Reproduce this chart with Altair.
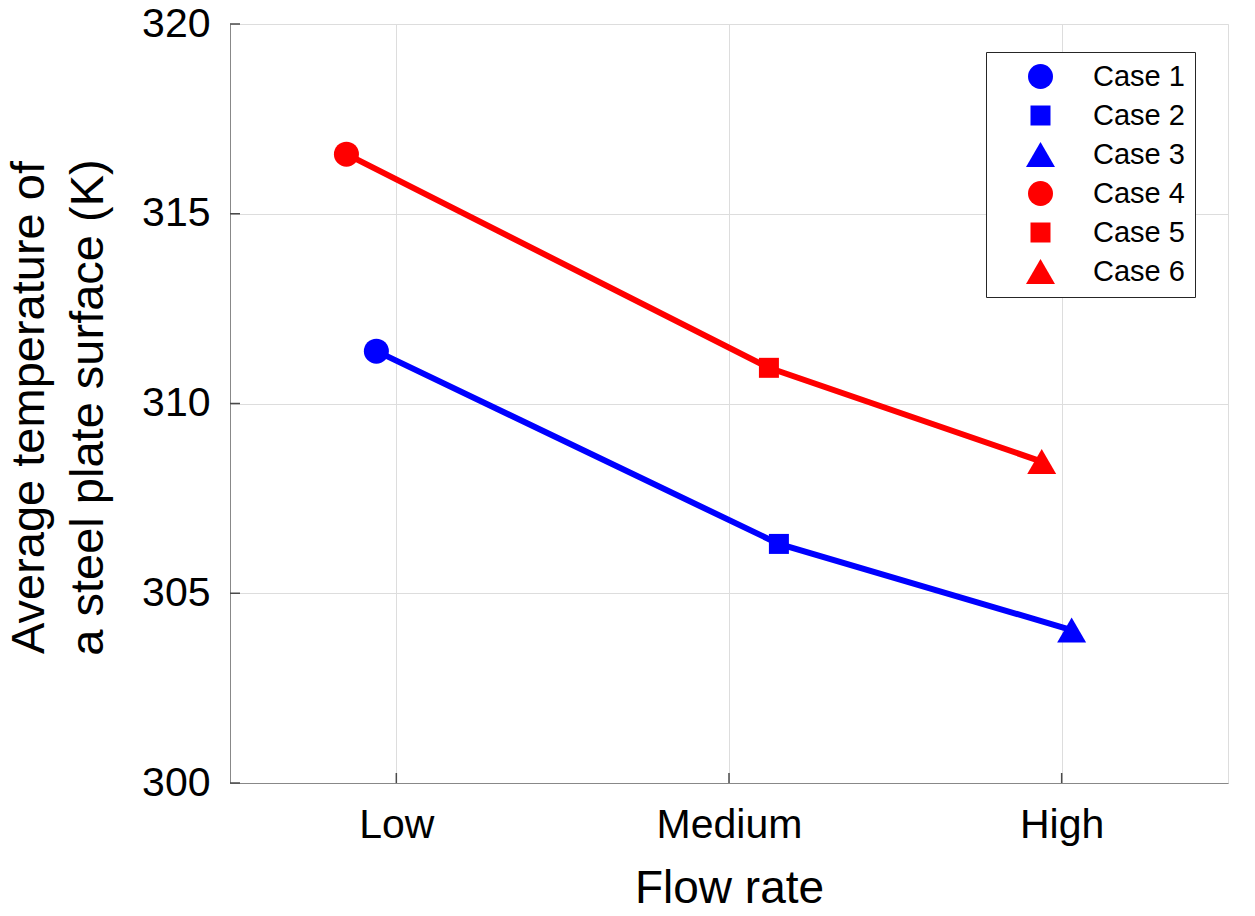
import altair as alt
import pandas as pd

# ---- data ----
cases = ["Case 1", "Case 2", "Case 3", "Case 4", "Case 5", "Case 6"]
flow_rate = ["Low", "Medium", "High", "Low", "Medium", "High"]
series = ["blue", "blue", "blue", "red", "red", "red"]
x_pos = [0.94, 2.15, 3.03, 0.85, 2.12, 2.94]
temperature = [311.38, 306.30, 304.03, 316.57, 310.94, 308.47]

tick_labels = ["Low", "Medium", "High"]
tick_values = [1, 2, 3]
y_ticks = [300, 305, 310, 315, 320]

TRIANGLE = "M-1,0.866L1,0.866L0,-0.866Z"
case_colors = ["#0000FF", "#0000FF", "#0000FF", "#FF0000", "#FF0000", "#FF0000"]
case_shapes = ["circle", "square", TRIANGLE, "circle", "square", TRIANGLE]
case_sizes = [625, 400, 840, 625, 400, 840]
line_colors = {"blue": "#0000FF", "red": "#FF0000"}

FONT = "Liberation Sans, Arial, sans-serif"
AXIS_COLOR = "#4a4a4a"
W, H = 998, 759

df = pd.DataFrame({
    "case": cases,
    "flow": flow_rate,
    "series": series,
    "x": x_pos,
    "temp": temperature,
    "line_color": [line_colors[s] for s in series],
})
df_xt = pd.DataFrame({"v": tick_values})
df_yt = pd.DataFrame({"v": y_ticks})

label_expr = "[" + ",".join("'" + t + "'" for t in tick_labels) + "][datum.value - 1]"

x_enc = alt.X(
    "x:Q",
    scale=alt.Scale(domain=[0.5, 3.5], nice=False, zero=False),
    axis=alt.Axis(
        values=tick_values, labelExpr=label_expr, title="Flow rate",
        ticks=False, labelPadding=22, labelFontSize=41, titleFontSize=46,
        titleBaseline="alphabetic", titleY=119, titleFontWeight="normal",
        grid=True,
    ),
)
y_enc = alt.Y(
    "temp:Q",
    scale=alt.Scale(domain=[300, 320], nice=False, zero=False),
    axis=alt.Axis(
        values=y_ticks, title=["Average temperature of", "a steel plate surface (K)"],
        ticks=False, labelPadding=20, labelFontSize=41, titleFontSize=47,
        titleLineHeight=59, titleBaseline="alphabetic", titleX=-187, titleY=383,
        titleAlign="center", titleFontWeight="normal", grid=True,
    ),
)

lines = alt.Chart(df).mark_line(strokeWidth=6).encode(
    x=x_enc, y=y_enc,
    stroke=alt.Stroke("line_color:N", scale=None, legend=None),
    detail="series:N",
    order="x:Q",
)

legend = alt.Legend(
    title=None, orient="none", legendX=756, legendY=28,
    strokeColor="#262626", fillColor="white", padding=10,
    labelFontSize=29, labelFont=FONT, labelColor="black",
    rowPadding=9, symbolOffset=30, labelOffset=38,
    symbolStrokeWidth=0, symbolOpacity=1,
)

points = alt.Chart(df).mark_point(filled=True, opacity=1, strokeWidth=0).encode(
    x=x_enc, y=y_enc,
    color=alt.Color("case:N", scale=alt.Scale(domain=cases, range=case_colors), legend=legend),
    shape=alt.Shape("case:N", scale=alt.Scale(domain=cases, range=case_shapes), legend=legend),
    size=alt.Size("case:N", scale=alt.Scale(type="ordinal", domain=cases, range=case_sizes), legend=legend),
)

xticks = alt.Chart(df_xt).mark_rule(color=AXIS_COLOR, strokeWidth=1.5).encode(
    x=alt.X("v:Q", scale=alt.Scale(domain=[0.5, 3.5], nice=False, zero=False)),
    y=alt.value(H), y2=alt.value(H - 10),
)
yticks = alt.Chart(df_yt).mark_rule(color=AXIS_COLOR, strokeWidth=1.5).encode(
    y=alt.Y("v:Q", scale=alt.Scale(domain=[300, 320], nice=False, zero=False)),
    x=alt.value(0), x2=alt.value(10),
)

chart = alt.layer(lines, xticks, yticks, points).properties(
    width=W, height=H,
    autosize=alt.AutoSizeParams(type="none"),
    padding={"left": 222, "top": 16, "right": 19, "bottom": 127},
).configure_view(stroke=None).configure_axis(
    labelFont=FONT, titleFont=FONT, labelColor="#262626", titleColor="#262626",
    domainColor=AXIS_COLOR, domainWidth=1.5, gridColor="#e3e3e3", gridWidth=1,
).configure(background="white")

chart.save("out.html", embed_options={"renderer": "svg", "actions": False})
